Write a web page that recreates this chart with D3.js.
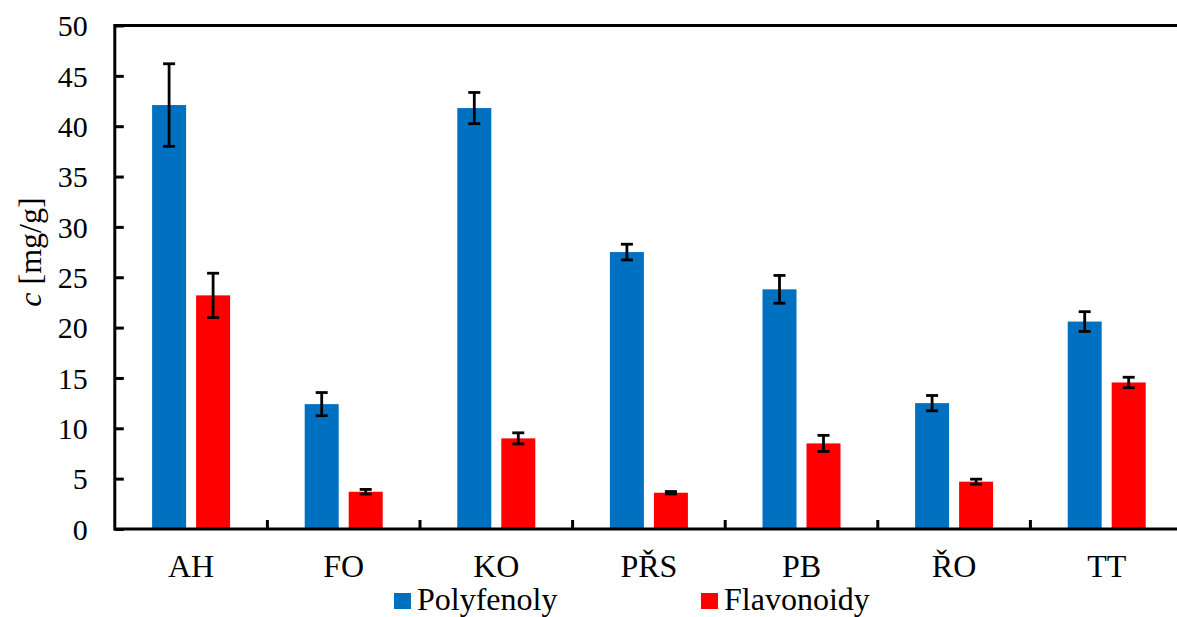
<!DOCTYPE html>
<html><head><meta charset="utf-8">
<script src="https://cdn.jsdelivr.net/npm/d3@7"></script>
<style>body{margin:0;background:#fff;} svg{display:block;}</style>
</head><body>
<svg id="c" width="1177" height="617"></svg>
<script>
const categories = ["AH","FO","KO","PŘS","PB","ŘO","TT"];
const seriesNames = ["Polyfenoly","Flavonoidy"];
const polyfenoly = [42.1, 12.4, 41.8, 27.5, 23.8, 12.5, 20.6];
const polyfenolyErr = [4.1, 1.15, 1.55, 0.78, 1.38, 0.76, 0.98];
const flavonoidy = [23.2, 3.7, 9.0, 3.6, 8.5, 4.7, 14.55];
const flavonoidyErr = [2.2, 0.23, 0.55, 0.12, 0.8, 0.25, 0.52];
const yTicks = [0,5,10,15,20,25,30,35,40,45,50];
const colors = ["#0070C0","#FF0000"];

(function(){
const svg = d3.select("#c");
const pLeft = 114.8, pRight = 1183, pTop = 25.5, pBottom = 529;
const FONT = "Liberation Serif";
const x = d3.scaleBand().domain(categories).range([pLeft, pRight]).padding(0);
const x1 = d3.scaleBand().domain(seriesNames).range([-39, 39]).paddingInner(10/44);
const y = d3.scaleLinear().domain([0, 50]).range([pBottom, pTop]);

const data = [];
categories.forEach((c,i)=>{
  data.push({cat:c, s:seriesNames[0], v:polyfenoly[i], e:polyfenolyErr[i], col:colors[0]});
  data.push({cat:c, s:seriesNames[1], v:flavonoidy[i], e:flavonoidyErr[i], col:colors[1]});
});

svg.append("g").selectAll("rect").data(data).join("rect")
  .attr("x", d => x(d.cat) + x.bandwidth()/2 + x1(d.s))
  .attr("y", d => y(d.v))
  .attr("width", x1.bandwidth())
  .attr("height", d => y(0) - y(d.v))
  .attr("fill", d => d.col);

const eg = svg.append("g").attr("stroke","#000").attr("stroke-width",2.8);
data.forEach(d=>{
  const cx = x(d.cat) + x.bandwidth()/2 + x1(d.s) + x1.bandwidth()/2;
  eg.append("line").attr("x1",cx).attr("x2",cx).attr("y1",y(d.v+d.e)).attr("y2",y(d.v-d.e));
  eg.append("line").attr("x1",cx-6).attr("x2",cx+6).attr("y1",y(d.v+d.e)).attr("y2",y(d.v+d.e));
  eg.append("line").attr("x1",cx-6).attr("x2",cx+6).attr("y1",y(d.v-d.e)).attr("y2",y(d.v-d.e));
});

svg.append("path")
  .attr("d", `M${pRight},${pTop}H${pLeft}V${pBottom}H${pRight}`)
  .attr("fill","none").attr("stroke","#000").attr("stroke-width",3);

const yAxis = d3.axisLeft(y).tickValues(yTicks).tickSize(-9).tickPadding(0).tickFormat(d3.format("d"));
const yg = svg.append("g").attr("transform",`translate(${pLeft},0)`).call(yAxis);
yg.select(".domain").remove();
yg.selectAll(".tick line").attr("stroke","#000").attr("stroke-width",3);
yg.selectAll(".tick text")
  .attr("x", -27).attr("dy","0.34em").attr("text-anchor","end")
  .attr("font-family",FONT).attr("font-size",30).attr("fill","#000");

const bounds = categories.slice(1).map(c => x(c));
svg.append("g").selectAll("line").data(bounds).join("line")
  .attr("x1", d=>d).attr("x2", d=>d).attr("y1", pBottom).attr("y2", pBottom-9)
  .attr("stroke","#000").attr("stroke-width",3);

svg.append("g").selectAll("text").data(categories).join("text")
  .attr("x", d => x(d)+x.bandwidth()/2).attr("y", 577)
  .attr("text-anchor","middle")
  .attr("font-family",FONT).attr("font-size",32)
  .attr("fill","#000").text(d=>d);

const yt = svg.append("text")
  .attr("transform","translate(41,252) rotate(-90)")
  .attr("text-anchor","middle")
  .attr("font-family",FONT).attr("font-size",32)
  .attr("fill","#000");
yt.append("tspan").attr("font-style","italic").text("c");
yt.append("tspan").text(" [mg/g]");

const legX = [394, 701];
const lg = svg.append("g").selectAll("g").data(seriesNames).join("g")
  .attr("transform",(d,i)=>`translate(${legX[i]},593)`);
lg.append("rect").attr("width",17).attr("height",16).attr("fill",(d,i)=>colors[i]);
lg.append("text")
  .attr("x",23).attr("y",17)
  .attr("font-family",FONT).attr("font-size",32)
  .attr("fill","#000").text(d=>d);
})();
</script>
</body></html>
